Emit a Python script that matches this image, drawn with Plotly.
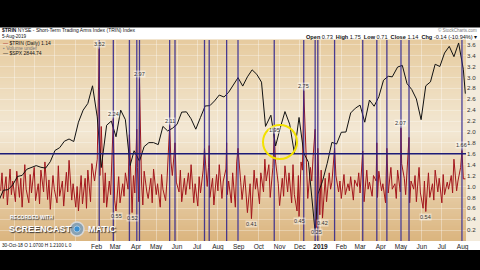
import pandas as pd
import plotly.graph_objects as go

# ---------------- data ----------------
spx_dates = [
    "2017-09-08", "2017-09-15", "2017-09-22", "2017-09-29", "2017-10-06", "2017-10-13", "2017-10-20",
    "2017-10-27", "2017-11-03", "2017-11-10", "2017-11-17", "2017-11-24", "2017-12-01", "2017-12-08",
    "2017-12-15", "2017-12-22", "2017-12-29", "2018-01-05", "2018-01-12", "2018-01-19", "2018-01-26",
    "2018-02-02", "2018-02-08", "2018-02-16", "2018-02-23", "2018-03-02", "2018-03-09", "2018-03-16",
    "2018-03-23", "2018-03-29", "2018-04-06", "2018-04-13", "2018-04-20", "2018-04-27", "2018-05-04",
    "2018-05-11", "2018-05-18", "2018-05-25", "2018-06-01", "2018-06-08", "2018-06-15", "2018-06-22",
    "2018-06-29", "2018-07-06", "2018-07-13", "2018-07-20", "2018-07-27", "2018-08-03", "2018-08-10",
    "2018-08-17", "2018-08-24", "2018-08-31", "2018-09-07", "2018-09-14", "2018-09-21", "2018-09-28",
    "2018-10-05", "2018-10-11", "2018-10-19", "2018-10-26", "2018-11-02", "2018-11-09", "2018-11-16",
    "2018-11-23", "2018-11-30", "2018-12-07", "2018-12-14", "2018-12-21", "2018-12-24", "2018-12-28",
    "2019-01-04", "2019-01-11", "2019-01-18", "2019-01-25", "2019-02-01", "2019-02-08", "2019-02-15",
    "2019-02-22", "2019-03-01", "2019-03-08", "2019-03-15", "2019-03-22", "2019-03-29", "2019-04-05",
    "2019-04-12", "2019-04-18", "2019-04-26", "2019-05-03", "2019-05-10", "2019-05-17", "2019-05-24",
    "2019-05-31", "2019-06-07", "2019-06-14", "2019-06-21", "2019-06-28", "2019-07-05", "2019-07-12",
    "2019-07-19", "2019-07-26", "2019-08-02", "2019-08-05",
]
spx_vals = [
    2461, 2500, 2502, 2519, 2549, 2553, 2575,
    2581, 2588, 2582, 2579, 2602, 2642, 2652,
    2675, 2683, 2674, 2743, 2786, 2810, 2873,
    2762, 2581, 2732, 2747, 2691, 2786, 2752,
    2588, 2641, 2604, 2656, 2670, 2670, 2663,
    2728, 2712, 2721, 2735, 2779, 2780, 2755,
    2718, 2760, 2801, 2802, 2819, 2840, 2833,
    2850, 2875, 2902, 2872, 2905, 2930, 2914,
    2886, 2728, 2768, 2658, 2723, 2781, 2736,
    2633, 2760, 2633, 2600, 2417, 2351, 2486,
    2532, 2596, 2671, 2665, 2707, 2708, 2776,
    2793, 2804, 2743, 2822, 2800, 2834, 2893,
    2907, 2905, 2940, 2946, 2881, 2860, 2826,
    2752, 2873, 2887, 2950, 2942, 2990, 3014,
    2977, 3026, 2932, 2845,
]

# TRIN sampled every 2 business days from the start date (rows of 4 weeks)
trin_start = "2017-09-11"
trin_base = [
    0.92, 1.25, 0.78, 1.18, 0.66, 1.32, 0.85, 1.10, 0.72, 1.28,
    0.80, 1.15, 0.62, 1.40, 0.95, 0.70, 1.22, 0.88, 1.35, 0.74,
    1.05, 0.68, 1.30, 0.90, 1.45, 0.76, 1.12, 0.58, 1.20, 0.95,
    0.70, 1.38, 0.82, 1.10, 0.64, 1.26, 0.90, 1.48, 0.75, 1.05,
    0.62, 1.00, 0.55, 1.20, 0.68, 1.15, 0.60, 1.30, 0.72, 1.42,
    1.10, 1.35, 1.50, 1.20, 1.45, 0.70, 1.25, 0.62, 1.10, 0.85,
    1.30, 0.75, 0.60, 1.18, 0.70, 1.05, 0.82, 1.25, 0.95, 1.40,
    0.55, 1.20, 0.88, 1.35, 0.72, 1.10, 0.66, 1.28, 0.90, 0.78,
    1.15, 0.70, 1.32, 0.85, 1.05, 0.62, 1.22, 0.95, 0.74, 1.10,
    0.80, 1.45, 1.20, 0.68, 1.08, 0.90, 1.30, 0.72, 1.15, 0.85,
    1.25, 0.95, 1.40, 0.70, 1.05, 0.64, 1.18, 0.88, 1.30, 0.75,
    1.00, 1.35, 0.80, 1.15, 0.66, 1.22, 0.92, 1.40, 0.78, 1.10,
    1.32, 0.85, 1.10, 0.70, 1.25, 0.62, 1.45, 0.95, 1.08, 0.76,
    1.20, 0.88, 0.52, 1.05, 0.72, 1.30, 0.95, 1.15, 0.68, 1.25,
    0.90, 1.50, 1.10, 1.40, 0.80, 1.35, 0.75, 1.45, 1.05, 0.65,
    1.15, 0.82, 1.38, 0.90, 1.25, 0.70, 1.40, 0.85, 0.55, 1.20,
    1.45, 1.30, 0.95, 1.50, 0.78, 1.35, 1.10, 1.55, 1.20, 0.60,
    0.48, 1.30, 0.85, 1.15, 0.72, 1.25, 0.95, 1.08, 0.80, 1.20,
    0.90, 1.10, 0.78, 1.22, 0.85, 1.05, 0.92, 1.18, 0.75, 1.12,
    1.00, 1.25, 0.88, 1.15, 0.72, 1.30, 0.95, 1.08, 0.82, 1.20,
    1.10, 0.80, 1.28, 0.92, 1.05, 0.70, 1.22, 0.88, 1.35, 0.95,
    1.05, 0.78, 1.30, 0.90, 1.42, 1.15, 0.85, 1.25, 0.70, 1.10,
    0.95, 1.20, 0.72, 1.35, 0.88, 0.60, 1.10, 0.58, 1.25, 0.80,
    1.05, 0.75, 1.30, 0.90, 1.15, 0.70, 1.22, 0.85, 1.08, 0.95,
    1.20, 0.88, 1.50, 0.92, 1.10, 1.35, 1.28, 1.14,
]
trin_extra_dates = [
    "2018-02-05", "2018-02-08", "2018-02-26", "2018-03-02", "2018-03-22", "2018-03-26",
    "2018-04-02", "2018-04-06", "2018-05-21", "2018-05-29", "2018-07-12", "2018-07-19",
    "2018-08-14", "2018-08-31", "2018-09-20", "2018-10-24", "2018-11-30", "2018-12-07",
    "2018-12-24", "2018-12-26", "2018-12-28", "2019-01-04", "2019-01-22", "2019-03-05",
    "2019-03-26", "2019-04-10", "2019-05-01", "2019-05-13", "2019-06-07", "2019-07-31",
    "2019-08-05",
]
trin_extra_vals = [
    3.52, 2.10, 2.24, 0.55, 1.95, 0.52,
    2.05, 2.97, 2.11, 1.80, 1.70, 1.75,
    1.80, 1.70, 0.41, 1.95, 0.45, 2.75,
    2.05, 0.25, 1.70, 0.42, 1.70, 1.65,
    1.80, 1.70, 2.07, 1.90, 0.54, 1.66,
    1.14,
]
vline_dates = [
    "2018-02-05", "2018-02-26", "2018-03-22", "2018-04-02", "2018-04-06", "2018-05-21",
    "2018-05-29", "2018-07-12", "2018-07-19", "2018-08-14", "2018-08-31", "2018-10-24",
    "2018-12-07", "2018-12-24", "2018-12-28", "2019-01-22", "2019-03-05", "2019-03-26",
    "2019-04-10", "2019-05-01", "2019-05-13", "2019-07-31",
]
label_dates = ["2018-02-05", "2018-02-26", "2018-04-06", "2018-05-21", "2018-10-24", "2018-12-07",
               "2019-05-01", "2019-07-31", "2018-03-02", "2018-03-26", "2018-09-20", "2018-11-30",
               "2018-12-26", "2019-01-04", "2019-06-07"]
label_vals = [3.52, 2.24, 2.97, 2.11, 1.95, 2.75, 2.07, 1.66, 0.55, 0.52, 0.41, 0.45, 0.25, 0.42, 0.54]
label_up = [True, True, True, True, True, True, True, True, False, False, False, False, False, False, False]

# month gridlines; the first labels sit under the read-out box, as in the screenshot
month_ticks = ["2017-10-01", "2017-11-01", "2017-12-01", "2018-01-01", "2018-02-01", "2018-03-01",
               "2018-04-01", "2018-05-01", "2018-06-01", "2018-07-01", "2018-08-01", "2018-09-01",
               "2018-10-01", "2018-11-01", "2018-12-01", "2019-01-01", "2019-02-01", "2019-03-01",
               "2019-04-01", "2019-05-01", "2019-06-01", "2019-07-01", "2019-08-01"]
month_text = ["", "", "", "", "Feb", "Mar", "Apr", "May", "Jun", "Jul", "Aug", "Sep",
              "Oct", "Nov", "Dec", "<b>2019</b>", "Feb", "Mar", "Apr", "May", "Jun", "Jul", "Aug"]
y_ticks = [0.2, 0.4, 0.6, 0.8, 1.0, 1.2, 1.4, 1.6, 1.8, 2.0, 2.2, 2.4, 2.6, 2.8, 3.0, 3.2, 3.4, 3.6]
trin_threshold = 1.6

# ---------------- build ----------------
base = pd.Series(trin_base, index=pd.bdate_range(trin_start, periods=len(trin_base), freq="2B"))
extra = pd.Series(trin_extra_vals, index=pd.to_datetime(trin_extra_dates))
trin = pd.concat([base, extra])
trin = trin[~trin.index.duplicated(keep="last")].sort_index()

W, H = 480, 270
PL, PR, PT, PB = 0, 466, 40, 241  # plot area in pixels


def px(x):
    return (x - PL) / (PR - PL)


def py(y):
    return (PB - y) / (PB - PT)


FONT = "Liberation Sans, Arial, sans-serif"
fig = go.Figure()
fig.add_trace(go.Scatter(x=list(trin.index), y=list(trin.values), mode="lines",
                         line=dict(color="#a3161c", width=1), hoverinfo="skip"))
fig.add_trace(go.Scatter(x=pd.to_datetime(spx_dates), y=spx_vals, mode="lines", yaxis="y2",
                         line=dict(color="#111111", width=1), hoverinfo="skip"))

shapes = []
# gradient background of plot area
stops = [(0.0, (230, 203, 158)), (0.45, (243, 232, 212)), (1.0, (219, 181, 127))]
nb = 67
for i in range(nb):
    f = (i + 0.5) / nb
    for (a, ca), (b, cb) in zip(stops[:-1], stops[1:]):
        if a <= f <= b:
            t = (f - a) / (b - a)
            c = tuple(round(ca[k] + (cb[k] - ca[k]) * t) for k in range(3))
            break
    shapes.append(dict(type="rect", xref="paper", yref="paper", x0=0, x1=1,
                       y0=1 - (i + 1) / nb, y1=1 - i / nb + 0.002, line_width=0,
                       fillcolor="rgb(%d,%d,%d)" % c, layer="below"))
# right axis strip
shapes.append(dict(type="rect", xref="paper", yref="paper", x0=1, x1=px(480), y0=0, y1=1,
                   line_width=0, fillcolor="#f3ebdc", layer="below"))
# black bands
shapes.append(dict(type="rect", xref="paper", yref="paper", x0=px(0), x1=px(480), y0=py(27.5), y1=py(0),
                   line_width=0, fillcolor="#000000", layer="above"))
shapes.append(dict(type="rect", xref="paper", yref="paper", x0=px(0), x1=px(480), y0=py(270), y1=py(250),
                   line_width=0, fillcolor="#000000", layer="above"))
# vertical event lines
for d in vline_dates:
    shapes.append(dict(type="line", xref="x", yref="paper", x0=d, x1=d, y0=0, y1=1,
                       line=dict(color="rgba(50,38,140,0.88)", width=1.3), layer="above"))
# horizontal threshold line
shapes.append(dict(type="line", xref="paper", yref="y", x0=0, x1=1, y0=trin_threshold, y1=trin_threshold,
                   line=dict(color="#1b1b78", width=1.5), layer="above"))
# yellow highlight circle
shapes.append(dict(type="circle", xref="paper", yref="paper", x0=px(263), x1=px(297), y0=py(159), y1=py(125),
                   line=dict(color="#f2e100", width=2), layer="above"))
# screencast logo
shapes.append(dict(type="circle", xref="paper", yref="paper", x0=px(70), x1=px(84), y0=py(236), y1=py(222),
                   line=dict(color="#d8d8d8", width=1.5), fillcolor="#8aa2b2", layer="above"))
shapes.append(dict(type="circle", xref="paper", yref="paper", x0=px(74), x1=px(80), y0=py(232), y1=py(226),
                   line=dict(color="#e8f4ff", width=0.5), fillcolor="#3b8fd0", layer="above"))

ann = []
for d, v, up in zip(label_dates, label_vals, label_up):
    ann.append(dict(x=d, y=v, xref="x", yref="y", text="%.2f" % v, showarrow=False,
                    yshift=5 if up else -5, font=dict(family=FONT, size=5.5, color="#333333"),
                    bgcolor="rgba(255,255,255,0.45)", borderpad=0))


def txt(x, y, s, size, anchor="left", color="#111111", **kw):
    ann.append(dict(x=px(x), y=py(y), xref="paper", yref="paper", text=s, showarrow=False,
                    xanchor=anchor, yanchor="middle", font=dict(family=FONT, size=size, color=color), **kw))


txt(0, 30.0, "<b>$TRIN</b> NYSE - Short-Term Trading Arms Index (TRIN) Index", 5.0)
txt(0, 36.6, "5-Aug-2019", 4.6)
txt(479, 30.0, "© StockCharts.com", 4.5, anchor="right", color="#777777")
txt(479, 36.8, "<b>Open</b> 0.73  <b>High</b> 1.75  <b>Low</b> 0.71  <b>Close</b> 1.14  <b>Chg</b> -0.14 (-10.94%) ▾",
    5.6, anchor="right")
txt(1, 43.5, "<span style='color:#a3161c'>—</span> $TRIN (Daily) 1.14", 5.0)
txt(1, 48.0, "<span style='color:#888'>▪</span> Volume undef", 5.0, color="#777777")
txt(1, 52.7, "— $SPX 2844.74", 5.0)
txt(0, 245.5, "30-Oct-18 O 1.0700 H 1.2100 L 0", 4.7, bgcolor="#ffffff", borderpad=1)
txt(8, 217, "<b>RECORDED WITH</b>", 5.0, color="#ffffff", )
txt(7, 229, "<b>SCREENCAST</b>", 9.0, color="#ffffff")
txt(86, 229, "<b>MATIC</b>", 9.0, color="#ffffff")
for a in ann[-3:]:
    a["font"]["shadow"] = "1px 1px 1px #333333"

fig.update_layout(
    width=W, height=H, margin=dict(l=PL, r=W - PR, t=PT, b=H - PB),
    paper_bgcolor="#ffffff", plot_bgcolor="rgba(0,0,0,0)", showlegend=False,
    xaxis=dict(range=["2017-09-10", "2019-08-06"], tickvals=month_ticks, ticktext=month_text,
               showgrid=True, gridcolor="rgba(255,255,255,0.35)", gridwidth=1, ticks="",
               tickfont=dict(family=FONT, size=6.5, color="#222222"), zeroline=False, fixedrange=True),
    yaxis=dict(range=[0.0, 3.686], side="right", tickvals=y_ticks, ticktext=["%.1f" % v for v in y_ticks],
               showgrid=True, gridcolor="rgba(255,255,255,0.3)", ticks="", zeroline=False,
               tickfont=dict(family=FONT, size=6.2, color="#333333")),
    yaxis2=dict(range=[2318.7, 3036.6], overlaying="y", visible=False),
    shapes=shapes, annotations=ann,
)
fig.write_html("out.html")
